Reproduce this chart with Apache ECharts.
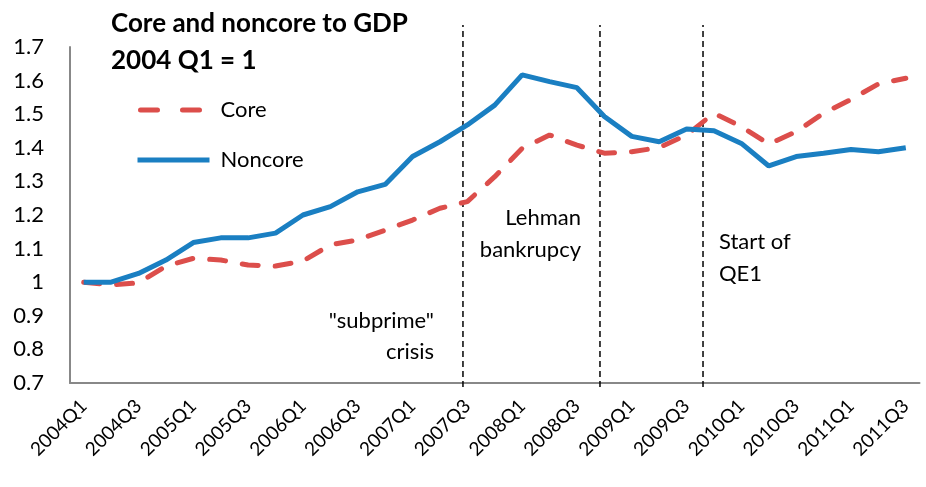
<!DOCTYPE html>
<html><head><meta charset="utf-8">
<script src="https://cdn.jsdelivr.net/npm/echarts@6/dist/echarts.min.js"></script>
<style>html,body{margin:0;padding:0;background:#fff}#c{width:926px;height:487px}</style>
</head><body><div id="c"></div>
<script>
const categories = ['2004Q1','2004Q2','2004Q3','2004Q4','2005Q1','2005Q2','2005Q3','2005Q4','2006Q1','2006Q2','2006Q3','2006Q4','2007Q1','2007Q2','2007Q3','2007Q4','2008Q1','2008Q2','2008Q3','2008Q4','2009Q1','2009Q2','2009Q3','2009Q4','2010Q1','2010Q2','2010Q3','2010Q4','2011Q1','2011Q2','2011Q3'];
const core = [1.0,0.992,0.998,1.048,1.071,1.066,1.051,1.048,1.063,1.111,1.126,1.155,1.185,1.22,1.24,1.314,1.398,1.438,1.408,1.384,1.388,1.401,1.438,1.503,1.463,1.411,1.448,1.503,1.544,1.59,1.607];
const noncore = [1.0,1.0,1.026,1.066,1.118,1.132,1.132,1.146,1.2,1.225,1.269,1.291,1.374,1.418,1.468,1.527,1.617,1.597,1.579,1.493,1.434,1.418,1.456,1.451,1.413,1.346,1.374,1.384,1.395,1.388,1.4];
const yTicks = {min:0.7, max:1.7, interval:0.1};
const eventPositions = [13.84, 18.84, 22.6]; // category index positions of the vertical dashed lines

const chart = echarts.init(document.getElementById('c'));
const font = 'Lato, "Open Sans", sans-serif';
const coreColor = '#DC4E4B', noncoreColor = '#1A7FC2';
const vSeries = eventPositions.map(p=>({
  type:'line', xAxisIndex:1, yAxisIndex:1, data:[[p,0],[p,1]], symbol:'none', silent:true,
  lineStyle:{color:'#000', width:1.5, type:[6,4]}, z:1
}));
chart.setOption({
  animation:false,
  title:{text:'Core and noncore to GDP\n2004 Q1 = 1', left:106, top:0,
    textStyle:{fontFamily:font, fontWeight:'bold', fontSize:26, color:'#000', lineHeight:37}},
  legend:{orient:'vertical', left:130, top:94, itemWidth:72, itemHeight:14, itemGap:28,
    itemStyle:{opacity:0},
    data:[{name:'Core', lineStyle:{color:coreColor, width:5, type:[17,25], cap:'round', dashOffset:-3}},
          {name:'Noncore', lineStyle:{color:noncoreColor, width:5}}],
    textStyle:{fontFamily:font, fontSize:22, color:'#000', padding:[0,0,0,6]}},
  grid:[{left:70, right:6.5, top:47, bottom:104},{left:70, right:6.5, top:25, bottom:100}],
  xAxis:[{type:'category', data:categories, boundaryGap:true,
    axisLine:{lineStyle:{color:'#888', width:2}}, axisTick:{show:false},
    axisLabel:{interval:1, rotate:45, fontFamily:font, fontSize:19, color:'#000', margin:20}},
    {type:'value', gridIndex:1, min:-0.5, max:30.5, show:false}],
  yAxis:[{type:'value', min:yTicks.min, max:yTicks.max, interval:yTicks.interval,
    splitLine:{show:false}, axisLine:{show:true, lineStyle:{color:'#888', width:2}}, axisTick:{show:false},
    axisLabel:{fontFamily:font, fontSize:22, color:'#000', margin:26,
      formatter:v=>String(Math.round(v*10)/10)}},
    {type:'value', gridIndex:1, min:0, max:1, show:false}],
  series:[
    {name:'Core', type:'line', data:core, symbol:'none', z:3,
      lineStyle:{color:coreColor, width:5, type:[16,17], cap:'round'}, itemStyle:{color:coreColor}},
    {name:'Noncore', type:'line', data:noncore, symbol:'none', z:4,
      lineStyle:{color:noncoreColor, width:5}, itemStyle:{color:noncoreColor}},
    ...vSeries
  ],
  graphic:[
    {type:'text', style:{text:'"subprime"\ncrisis', x:434, y:305, textAlign:'right', fontFamily:font, fontSize:22, lineHeight:31, fill:'#000'}},
    {type:'text', style:{text:'Lehman\nbankrupcy', x:581, y:202, textAlign:'right', fontFamily:font, fontSize:22, lineHeight:32, fill:'#000'}},
    {type:'text', style:{text:'Start of\nQE1', x:719, y:226, textAlign:'left', fontFamily:font, fontSize:22, lineHeight:32, fill:'#000'}}
  ]
});
</script></body></html>
